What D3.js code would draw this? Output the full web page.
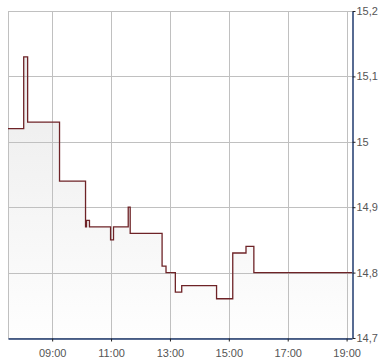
<!DOCTYPE html>
<html>
<head>
<meta charset="utf-8">
<script src="https://cdn.jsdelivr.net/npm/d3@7"></script>
<style>
  body { margin: 0; background: #fff; }
  svg { display: block; font-family: "Liberation Sans", Arial, sans-serif; }
</style>
</head>
<body>
<svg id="chart" width="390" height="364"></svg>
<script>
// price steps (time of change, new price)
var times = ['07:30','08:02','08:10','09:15','10:08','10:10','10:16','10:59','11:05','11:35','11:39',
             '12:44','12:52','13:11','13:24','14:35','15:08','15:35','15:51','19:11']
var prices = [15.02,15.13,15.03,14.94,14.87,14.88,14.87,14.85,14.87,14.90,14.86,
              14.81,14.80,14.77,14.78,14.76,14.83,14.84,14.80,14.80]
var xTicks = ['09:00','11:00','13:00','15:00','17:00','19:00']
var yTicks = [15.2,15.1,15,14.9,14.8,14.7]

var parse = d3.timeParse('%H:%M')
var data = times.map(function(t,i){ return {t: parse(t), v: prices[i]} })

var plotL = 8, plotR = 352, plotT = 11, plotB = 338
var svg = d3.select('#chart')

var x = d3.scaleTime()
  .domain([parse('07:30'), parse('19:11')])
  .range([plotL, plotR])
var y = d3.scaleLinear()
  .domain([14.7, 15.2])
  .range([plotB, plotT])

var fmt = function(d){ return String(+d.toFixed(1)).replace('.', ',') }

// fill gradient
var grad = svg.append('defs').append('linearGradient')
  .attr('id','fillGrad')
  .attr('gradientUnits','userSpaceOnUse')
  .attr('x1',0).attr('x2',0).attr('y1', plotT).attr('y2', plotB)
grad.append('stop').attr('offset','0%').attr('stop-color','#e8e8e8')
grad.append('stop').attr('offset','100%').attr('stop-color','#fefefe')

var area = d3.area()
  .curve(d3.curveStepAfter)
  .x(function(d){ return x(d.t) })
  .y0(plotB)
  .y1(function(d){ return y(d.v) })

svg.append('path')
  .datum(data)
  .attr('d', area)
  .attr('fill', 'url(#fillGrad)')

// grid
var grid = svg.append('g').attr('stroke','#c0c0c0').attr('stroke-width',1)
grid.selectAll('.hg').data(yTicks).enter().append('line')
  .attr('x1', plotL).attr('x2', plotR)
  .attr('y1', function(d){ return Math.round(y(d)) + 0.5 })
  .attr('y2', function(d){ return Math.round(y(d)) + 0.5 })
grid.selectAll('.vg').data(xTicks).enter().append('line')
  .attr('y1', plotT).attr('y2', plotB)
  .attr('x1', function(d){ return Math.round(x(parse(d))) + 0.5 })
  .attr('x2', function(d){ return Math.round(x(parse(d))) + 0.5 })
grid.append('line')
  .attr('x1', plotL + 0.5).attr('x2', plotL + 0.5).attr('y1', plotT).attr('y2', plotB)

// price line
var line = d3.line()
  .curve(d3.curveStepAfter)
  .x(function(d){ return x(d.t) })
  .y(function(d){ return y(d.v) })

svg.append('path')
  .datum(data)
  .attr('d', line)
  .attr('fill','none')
  .attr('stroke','#6e2327')
  .attr('stroke-width',1.3)

// axes
var xAxis = svg.append('g')
  .attr('transform','translate(0,' + (plotB + 0.5) + ')')
  .call(d3.axisBottom(x)
    .tickValues(xTicks.map(parse))
    .tickFormat(d3.timeFormat('%H:%M'))
    .tickSize(3).tickSizeOuter(0).tickPadding(8))
var yAxis = svg.append('g')
  .attr('transform','translate(' + (plotR + 0.5) + ',0)')
  .call(d3.axisRight(y)
    .tickValues(yTicks)
    .tickFormat(fmt)
    .tickSize(3).tickSizeOuter(0).tickPadding(1))

;[xAxis, yAxis].forEach(function(a){
  a.select('.domain').attr('stroke','#1f3a6e').attr('stroke-width',1.5)
  a.selectAll('.tick line').attr('stroke','#222')
  a.selectAll('.tick text').attr('fill','#555').style('font-size','11px')
})
</script>
</body>
</html>
